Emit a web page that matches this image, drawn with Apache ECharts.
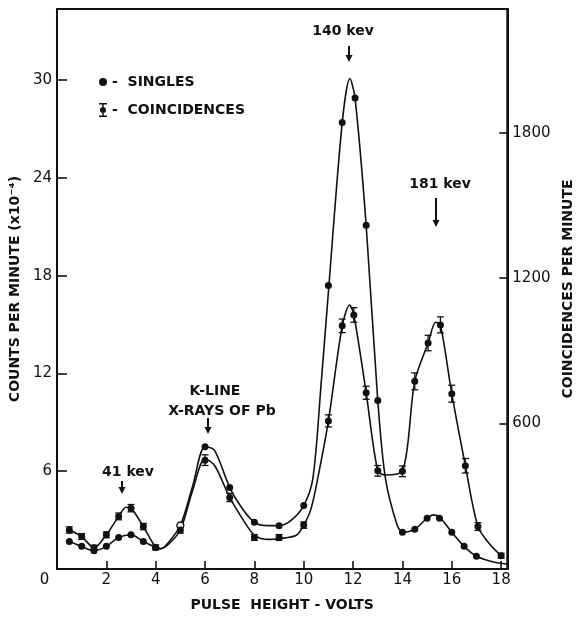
<!DOCTYPE html>
<html>
<head>
<meta charset="utf-8">
<script src="https://cdn.jsdelivr.net/npm/echarts@6/dist/echarts.min.js"></script>
<style>
html,body{margin:0;padding:0;background:#fff;}
#chart{width:586px;height:617px;}
</style>
</head>
<body>
<div id="chart"></div>
<script>
// ---- data ----
const xTicks = [0, 2, 4, 6, 8, 10, 12, 14, 16, 18];
const leftTicks = [6, 12, 18, 24, 30];
const rightTicks = [600, 1200, 1800];

// Singles (left axis, counts per minute x10^-4)
const singlesX = [0.5, 1, 1.5, 2, 2.5, 3, 3.5, 4, 5, 6, 7, 8, 9, 10, 11, 11.56, 12.08, 12.53, 13, 14, 14.5, 15, 15.5, 16, 16.5, 17];
const singlesY = [1.69, 1.39, 1.12, 1.39, 1.94, 2.1, 1.69, 1.33, 2.67, 7.5, 5.0, 2.87, 2.66, 3.89, 17.4, 27.4, 28.9, 21.1, 10.34, 2.26, 2.44, 3.12, 3.12, 2.26, 1.39, 0.78];

// Coincidences (right axis, coincidences per minute)
const coincX = [0.5, 1, 1.5, 2, 2.5, 3, 3.5, 4, 5, 6, 7, 8, 9, 10, 11, 11.56, 12.03, 12.53, 13, 14, 14.5, 15.04, 15.54, 16, 16.55, 17.06, 18];
const coincY = [161, 134, 88, 141, 217, 251, 175, 89, 161, 449, 295, 130, 130, 181, 611, 1003, 1048, 727, 405, 403, 774, 932, 1007, 723, 426, 175, 55];
const coincErr = [13, 12, 10, 12, 14, 15, 13, 10, 13, 22, 17, 12, 12, 13, 25, 28, 30, 27, 22, 22, 35, 32, 33, 35, 30, 16, 10];

// Hand-drawn smooth curves
const singlesCurveX = [0.5, 1, 1.5, 2, 2.5, 3, 3.5, 4, 4.2, 4.5, 5, 5.5, 6, 6.38, 7, 7.5, 8, 8.5, 9, 9.5, 10, 10.37, 10.69, 11.02, 11.56, 11.87, 12.08, 12.53, 13, 13.31, 13.78, 14.02, 14.5, 15, 15.27, 15.54, 16, 16.5, 17, 17.69, 18.23];
const singlesCurveY = [1.69, 1.39, 1.12, 1.39, 1.94, 2.1, 1.69, 1.33, 1.24, 1.6, 2.67, 5.1, 7.5, 7.3, 5.0, 3.73, 2.87, 2.66, 2.66, 3.0, 3.89, 5.55, 11.07, 17.4, 27.4, 30.1, 28.9, 21.1, 10.34, 5.57, 2.72, 2.26, 2.44, 3.12, 3.32, 3.12, 2.26, 1.39, 0.78, 0.43, 0.31];
const coincCurveX = [0.5, 1, 1.5, 2, 2.5, 2.8, 3, 3.5, 4, 4.2, 4.5, 5, 5.5, 6, 6.4, 7, 7.5, 8, 8.6, 9, 9.7, 10, 10.3, 10.6, 11, 11.56, 11.86, 12.03, 12.53, 13, 13.3, 14, 14.5, 15.04, 15.35, 15.54, 16, 16.55, 17.06, 17.55, 18];
const coincCurveY = [161, 134, 88, 141, 217, 255, 251, 175, 89, 84, 100, 161, 325, 455, 425, 295, 210, 140, 122, 125, 139, 181, 250, 390, 611, 1003, 1089, 1048, 727, 405, 388, 403, 774, 932, 1018, 1007, 723, 426, 175, 101, 55];

// ---- build ----
const pairs = (xs, ys) => xs.map((x, i) => [x, ys[i]]);
const ink = '#111';
const font = 'DejaVu Sans';

const singlesData = pairs(singlesX, singlesY).map(p => {
  if (p[0] === 5) {
    return { value: p, itemStyle: { color: '#fff', borderColor: ink, borderWidth: 1.3 } };
  }
  return p;
});
const coincData = coincX.map((x, i) => [x, coincY[i], coincErr[i]]);

const chart = echarts.init(document.getElementById('chart'), null, { renderer: 'canvas' });

function arrow(x, y1, y2) {
  return [
    { type: 'line', shape: { x1: x, y1: y1, x2: x, y2: y2 - 4 }, style: { stroke: ink, lineWidth: 2 } },
    { type: 'polygon', shape: { points: [[x - 3.5, y2 - 7], [x + 3.5, y2 - 7], [x, y2]] }, style: { fill: ink } }
  ];
}
function label(text, x, y) {
  return { type: 'text', x: x, y: y, style: { text: text, fill: ink, font: 'bold 14px "DejaVu Sans"', textAlign: 'center', textVerticalAlign: 'middle' } };
}

const option = {
  backgroundColor: '#fff',
  animation: false,
  grid: { left: 55.5, right: 78.7, top: 9, bottom: 46, show: true, borderColor: ink, borderWidth: 2 },
  legend: {
    orient: 'vertical',
    left: 94,
    top: 70,
    itemWidth: 8,
    itemHeight: 14,
    itemGap: 14,
    selectedMode: false,
    formatter: name => '-  ' + name,
    textStyle: { fontFamily: font, fontWeight: 'bold', fontSize: 14, color: ink },
    data: [
      { name: 'SINGLES', icon: 'circle', itemStyle: { color: ink, opacity: 1 } },
      { name: 'COINCIDENCES', icon: 'path://M0,0H8V1.5H0Z M3.25,0H4.75V14H3.25Z M0,12.5H8V14H0Z M1,7A3,3 0 1 1 7,7A3,3 0 1 1 1,7Z', itemStyle: { color: ink, opacity: 1 } }
    ]
  },
  xAxis: {
    type: 'value',
    min: 0,
    max: 18.25,
    interval: 2,
    name: 'PULSE  HEIGHT - VOLTS',
    nameLocation: 'middle',
    nameGap: 29,
    nameTextStyle: { fontFamily: font, fontWeight: 'bold', fontSize: 14, color: ink },
    axisLine: { show: true, lineStyle: { color: ink, width: 2 } },
    axisTick: { show: true, inside: true, length: 8, lineStyle: { color: ink, width: 1.6 } },
    axisLabel: {
      color: ink, fontFamily: font, fontSize: 15, margin: 4,
      showMaxLabel: false,
      formatter: v => (xTicks.indexOf(v) === 0 ? '{z|' + v + '}' : (xTicks.indexOf(v) > 0 ? String(v) : '')),
      rich: { z: { padding: [0, 25, 0, 0], fontFamily: font, fontSize: 15, color: ink } }
    },
    splitLine: { show: false }
  },
  yAxis: [
    {
      type: 'value',
      min: 0,
      max: 34.37,
      interval: 6,
      position: 'left',
      name: 'COUNTS PER MINUTE (x10⁻⁴)',
      nameLocation: 'middle',
      nameRotate: 90,
      nameGap: 29,
      nameTextStyle: { fontFamily: font, fontWeight: 'bold', fontSize: 14, color: ink },
      axisLine: { show: true, lineStyle: { color: ink, width: 2 } },
      axisTick: { show: true, inside: true, length: 10, lineStyle: { color: ink, width: 1.6 } },
      axisLabel: {
        color: ink, fontFamily: font, fontSize: 15, margin: 5,
        showMinLabel: false, showMaxLabel: false,
        formatter: v => (leftTicks.indexOf(v) >= 0 ? String(v) : '')
      },
      splitLine: { show: false }
    },
    {
      type: 'value',
      min: 0,
      max: 2310,
      interval: 600,
      position: 'right',
      name: 'COINCIDENCES PER MINUTE',
      nameLocation: 'middle',
      nameRotate: 90,
      nameGap: 52,
      nameTextStyle: { fontFamily: font, fontWeight: 'bold', fontSize: 14, color: ink },
      axisLine: { show: true, lineStyle: { color: ink, width: 2 } },
      axisTick: { show: true, inside: true, length: 8, lineStyle: { color: ink, width: 1.6 } },
      axisLabel: {
        color: ink, fontFamily: font, fontSize: 15, margin: 5,
        showMinLabel: false, showMaxLabel: false,
        formatter: v => (rightTicks.indexOf(v) >= 0 ? String(v) : '')
      },
      splitLine: { show: false }
    }
  ],
  graphic: [
    label('140 kev', 343, 31), ...arrow(349, 46, 62),
    label('181 kev', 440, 184), ...arrow(436, 198, 227),
    label('K-LINE', 215, 391), label('X-RAYS OF Pb', 222, 411), ...arrow(208, 418, 434),
    label('41 kev', 128, 472), ...arrow(122, 481, 494)
  ],
  series: [
    {
      name: 'singles curve', type: 'line', yAxisIndex: 0,
      data: pairs(singlesCurveX, singlesCurveY),
      smooth: 0.3, showSymbol: false, symbol: 'none',
      lineStyle: { color: ink, width: 1.6 }, silent: true, z: 2
    },
    {
      name: 'coincidence curve', type: 'line', yAxisIndex: 1,
      data: pairs(coincCurveX, coincCurveY),
      smooth: 0.3, showSymbol: false, symbol: 'none',
      lineStyle: { color: ink, width: 1.6 }, silent: true, z: 2
    },
    {
      name: 'SINGLES', type: 'scatter', yAxisIndex: 0,
      data: singlesData, symbol: 'circle', symbolSize: 7,
      itemStyle: { color: ink, opacity: 1 }, z: 4
    },
    {
      name: 'COINCIDENCES', type: 'scatter', yAxisIndex: 1,
      data: coincData.map(d => [d[0], d[1]]), symbol: 'circle', symbolSize: 7,
      itemStyle: { color: ink, opacity: 1 }, z: 4
    },
    {
      name: 'coincidence errors', type: 'custom', yAxisIndex: 1,
      data: coincData,
      encode: { x: 0, y: 1 },
      z: 3, silent: true,
      renderItem: function (params, api) {
        const x = api.value(0), y = api.value(1), e = api.value(2);
        const top = api.coord([x, y + e]);
        const bot = api.coord([x, y - e]);
        const w = 3.5;
        const st = { stroke: ink, lineWidth: 1.3 };
        return {
          type: 'group',
          children: [
            { type: 'line', shape: { x1: top[0], y1: top[1], x2: bot[0], y2: bot[1] }, style: st },
            { type: 'line', shape: { x1: top[0] - w, y1: top[1], x2: top[0] + w, y2: top[1] }, style: st },
            { type: 'line', shape: { x1: bot[0] - w, y1: bot[1], x2: bot[0] + w, y2: bot[1] }, style: st }
          ]
        };
      }
    }
  ]
};
chart.setOption(option);
</script>
</body>
</html>
